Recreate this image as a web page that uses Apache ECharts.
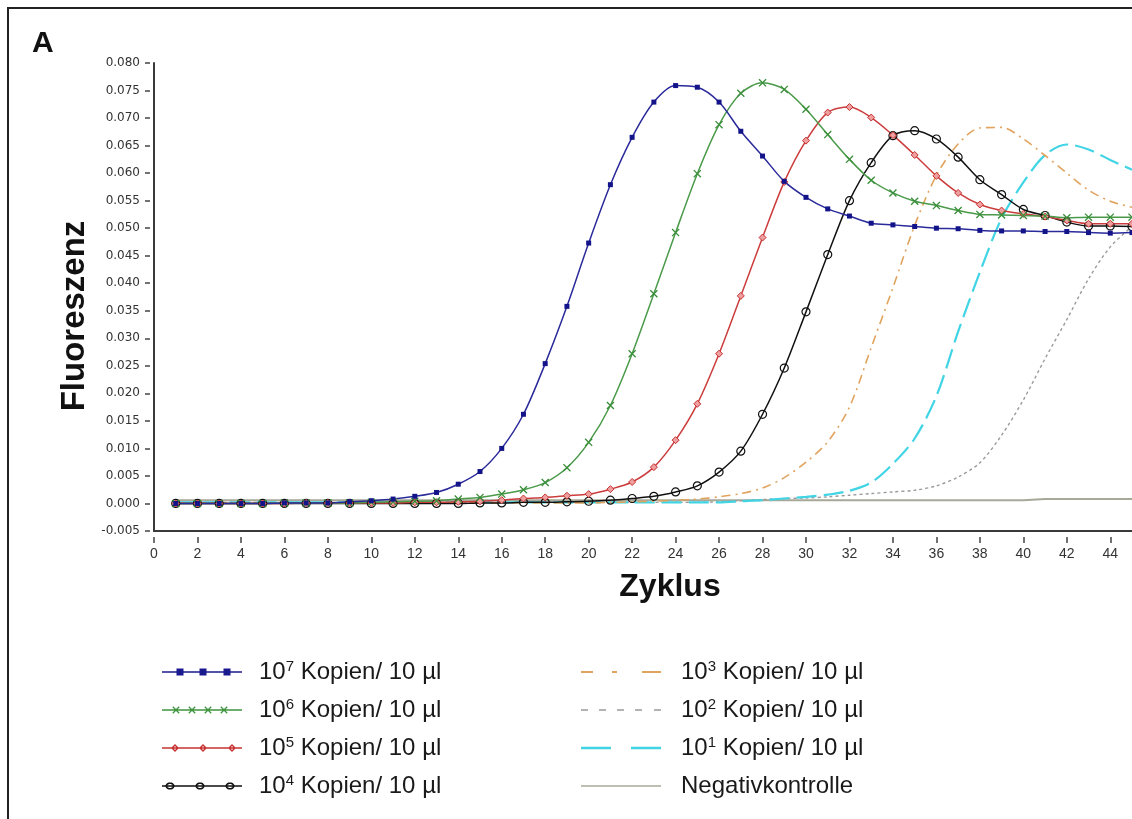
<!DOCTYPE html>
<html>
<head>
<meta charset="utf-8">
<title>Fluoreszenz / Zyklus</title>
<script src="https://cdn.jsdelivr.net/npm/echarts@6/dist/echarts.min.js"></script>
<style>
html, body { margin: 0; padding: 0; background: #fff; }
#chart { width: 1132px; height: 819px; }
</style>
</head>
<body>
<div id="chart"></div>
<script>
// Zyklen
var cycles = [1, 2, 3, 4, 5, 6, 7, 8, 9, 10, 11, 12, 13, 14, 15, 16, 17, 18, 19, 20,
  21, 22, 23, 24, 25, 26, 27, 28, 29, 30, 31, 32, 33, 34, 35, 36, 37, 38, 39, 40,
  41, 42, 43, 44, 45];
var xTicks = [0, 2, 4, 6, 8, 10, 12, 14, 16, 18, 20, 22, 24, 26, 28, 30, 32, 34, 36, 38, 40, 42, 44];

var names = ['10^7 Kopien/ 10 µl', '10^6 Kopien/ 10 µl', '10^5 Kopien/ 10 µl', '10^4 Kopien/ 10 µl',
  '10^3 Kopien/ 10 µl', '10^2 Kopien/ 10 µl', '10^1 Kopien/ 10 µl', 'Negativkontrolle'];

// Fluoreszenz je Zyklus
var kop7 = [0, 0, 0, 0, 0, 0.0001, 0.0001, 0.0001, 0.0003, 0.0005,
  0.0008, 0.0013, 0.0020, 0.0035, 0.0058, 0.0100, 0.0162, 0.0254, 0.0358, 0.0473,
  0.0579, 0.0665, 0.0729, 0.0759, 0.0756, 0.0729, 0.0676, 0.0631, 0.0585, 0.0556,
  0.0535, 0.0522, 0.0509, 0.0506, 0.0503, 0.0500, 0.0499, 0.0496, 0.0495, 0.0495,
  0.0494, 0.0494, 0.0492, 0.0491, 0.0492];
var kop6 = [0, 0, 0, 0, 0, 0.0001, 0.0001, 0.0001, 0.0001, 0.0002,
  0.0003, 0.0004, 0.0005, 0.0008, 0.0011, 0.0017, 0.0025, 0.0038, 0.0065, 0.0111,
  0.0178, 0.0272, 0.0381, 0.0492, 0.0599, 0.0688, 0.0745, 0.0764, 0.0752, 0.0716,
  0.0670, 0.0625, 0.0587, 0.0564, 0.0549, 0.0541, 0.0532, 0.0525, 0.0524, 0.0523,
  0.0522, 0.0519, 0.0520, 0.0520, 0.0520];
var kop5 = [0, 0, 0, 0, 0, 0, 0.0001, 0.0001, 0.0001, 0.0001,
  0.0001, 0.0002, 0.0002, 0.0003, 0.0004, 0.0006, 0.0009, 0.0011, 0.0014, 0.0017,
  0.0026, 0.0039, 0.0066, 0.0115, 0.0181, 0.0272, 0.0377, 0.0483, 0.0584, 0.0659,
  0.0710, 0.0720, 0.0701, 0.0669, 0.0633, 0.0595, 0.0564, 0.0543, 0.0532, 0.0526,
  0.0521, 0.0514, 0.0508, 0.0508, 0.0508];
var kop4 = [0, 0, 0, 0, 0, 0, 0, 0, 0, 0,
  0, 0, 0, 0, 0.0001, 0.0001, 0.0002, 0.0002, 0.0003, 0.0004,
  0.0006, 0.0009, 0.0013, 0.0021, 0.0032, 0.0057, 0.0095, 0.0162, 0.0246, 0.0348,
  0.0452, 0.0550, 0.0619, 0.0668, 0.0677, 0.0662, 0.0629, 0.0588, 0.0561, 0.0534,
  0.0523, 0.0511, 0.0504, 0.0504, 0.0503];
var kop3 = [0.0001, 0.0001, 0.0001, 0.0001, 0.0001, 0.0001, 0.0001, 0.0001, 0.0001, 0.0001,
  0.0001, 0.0001, 0.0001, 0.0001, 0.0001, 0.0001, 0.0001, 0.0001, 0.0001, 0.0001,
  0.0002, 0.0003, 0.0004, 0.0006, 0.0008, 0.0012, 0.0018, 0.0028, 0.0047, 0.0075,
  0.0112, 0.0175, 0.0283, 0.0392, 0.0505, 0.0596, 0.0653, 0.0682, 0.0683, 0.0662,
  0.0632, 0.0600, 0.0569, 0.0549, 0.0538];
var kop2 = [0.0002, 0.0002, 0.0002, 0.0002, 0.0002, 0.0002, 0.0002, 0.0002, 0.0002, 0.0002,
  0.0002, 0.0002, 0.0002, 0.0002, 0.0002, 0.0002, 0.0002, 0.0002, 0.0002, 0.0002,
  0.0002, 0.0002, 0.0002, 0.0002, 0.0002, 0.0003, 0.0005, 0.0007, 0.0009, 0.0010,
  0.0012, 0.0015, 0.0018, 0.0021, 0.0024, 0.0032, 0.0048, 0.0074, 0.0124, 0.0188,
  0.0263, 0.0334, 0.0408, 0.0466, 0.0503];
var kop1 = [0.0002, 0.0002, 0.0002, 0.0002, 0.0002, 0.0002, 0.0002, 0.0002, 0.0002, 0.0002,
  0.0002, 0.0002, 0.0002, 0.0002, 0.0002, 0.0002, 0.0002, 0.0002, 0.0002, 0.0002,
  0.0002, 0.0002, 0.0002, 0.0002, 0.0002, 0.0002, 0.0004, 0.0006, 0.0009, 0.0012,
  0.0016, 0.0023, 0.0038, 0.0072, 0.0118, 0.0195, 0.0312, 0.0420, 0.0518, 0.0583,
  0.0633, 0.0652, 0.0643, 0.0624, 0.0606];
var negativ = [0.0006, 0.0006, 0.0006, 0.0006, 0.0006, 0.0006, 0.0006, 0.0006, 0.0006, 0.0006,
  0.0006, 0.0006, 0.0006, 0.0006, 0.0006, 0.0006, 0.0006, 0.0006, 0.0006, 0.0006,
  0.0006, 0.0006, 0.0006, 0.0006, 0.0006, 0.0006, 0.0006, 0.0006, 0.0006, 0.0006,
  0.0006, 0.0006, 0.0006, 0.0006, 0.0006, 0.0006, 0.0006, 0.0006, 0.0006, 0.0006,
  0.0008, 0.0008, 0.0008, 0.0008, 0.0008];

var FONT = '"Liberation Sans", Arial, Helvetica, sans-serif';

function pts(vals) {
  return cycles.map(function (c, i) { return [c, vals[i]]; });
}

// kleine Pfad-Helfer fuer die Legendensymbole
function poly(p, hole) {
  var a = 0;
  for (var i = 0; i < p.length; i++) {
    var q = p[(i + 1) % p.length];
    a += p[i][0] * q[1] - q[0] * p[i][1];
  }
  if ((a < 0) !== !!hole) p = p.slice().reverse();
  return 'M' + p.map(function (v) { return v[0].toFixed(2) + ',' + v[1].toFixed(2); }).join('L') + 'Z';
}
function box(x0, y0, x1, y1) { return poly([[x0, y0], [x1, y0], [x1, y1], [x0, y1]]); }
function bar(x1, y1, x2, y2, w) {
  var dx = x2 - x1, dy = y2 - y1, l = Math.sqrt(dx * dx + dy * dy);
  var nx = -dy / l * w / 2, ny = dx / l * w / 2;
  return poly([[x1 + nx, y1 + ny], [x2 + nx, y2 + ny], [x2 - nx, y2 - ny], [x1 - nx, y1 - ny]]);
}
function cross(cx, cy, r, w) { return bar(cx - r, cy - r, cx + r, cy + r, w) + bar(cx - r, cy + r, cx + r, cy - r, w); }
function diamond(cx, cy, r, hole) { return poly([[cx, cy - r], [cx + r, cy], [cx, cy + r], [cx - r, cy]], hole); }
function ellipse(cx, cy, rx, ry, hole) {
  var p = [];
  for (var i = 0; i < 20; i++) {
    var t = i / 20 * 2 * Math.PI;
    p.push([cx + rx * Math.cos(t), cy + ry * Math.sin(t)]);
  }
  return poly(p, hole);
}

var line = box(0, 3.3, 80, 4.7);
var icons = [
  line + box(14.5, 0.5, 21.5, 7.5) + box(37.5, 0.5, 44.5, 7.5) + box(61.5, 0.5, 68.5, 7.5),
  line + cross(14, 4, 3.2, 1.3) + cross(30, 4, 3.2, 1.3) + cross(46, 4, 3.2, 1.3) + cross(62, 4, 3.2, 1.3),
  line + diamond(13, 4, 4) + diamond(13, 4, 2, true) + diamond(41, 4, 4) + diamond(41, 4, 2, true) + diamond(70, 4, 4) + diamond(70, 4, 2, true),
  line + ellipse(8, 4, 4.6, 3.6) + ellipse(8, 4, 2.9, 2, true) + ellipse(38, 4, 4.6, 3.6) + ellipse(38, 4, 2.9, 2, true) + ellipse(68, 4, 4.6, 3.6) + ellipse(68, 4, 2.9, 2, true),
  box(0, 0, 12, 2) + box(31, 0, 36, 2) + box(61, 0, 80, 2),
  box(0, 0, 7, 1.5) + box(18, 0, 25, 1.5) + box(36, 0, 43, 1.5) + box(54, 0, 61, 1.5) + box(73, 0, 80, 1.5),
  box(0, 0, 30, 2.4) + box(50, 0, 80, 2.4),
  box(0, 0, 80, 1.6)
];
var colors = ['#1a1a8e', '#3f953f', '#c83434', '#111111', '#e0a45e', '#9a9a9a', '#40d4e4', '#a8a898'];

var chart = echarts.init(document.getElementById('chart'));

function legendData(from, to) {
  var out = [];
  for (var i = from; i < to; i++) {
    out.push({ name: names[i], icon: 'path://' + icons[i], itemStyle: { color: colors[i], borderWidth: 0, opacity: 1 } });
  }
  return out;
}
function legendBox(left, pad, from, to) {
  return {
    orient: 'vertical', left: left, top: 659, padding: 0,
    itemWidth: 80, itemHeight: 10, itemGap: 12,
    selectedMode: false, symbolKeepAspect: true,
    data: legendData(from, to),
    formatter: function (n) { return '{pad|}' + n.replace(/\^(\d)/, '{sup|$1}'); },
    textStyle: {
      fontFamily: FONT, fontSize: 24, lineHeight: 26, color: '#1a1a1a',
      rich: {
        pad: { width: pad },
        sup: { fontFamily: FONT, fontSize: 15, lineHeight: 16, verticalAlign: 'top', color: '#1a1a1a' }
      }
    }
  };
}

var option = {
  animation: false,
  backgroundColor: '#ffffff',
  grid: { left: 154, right: 0, top: 63, bottom: 288, containLabel: false, outerBoundsMode: 'none' },
  legend: [legendBox(162, 12, 0, 4), legendBox(581, 15, 4, 8)],
  xAxis: [{
    type: 'value', min: 0, max: 45, position: 'bottom',
    axisLine: { show: true, onZero: false, lineStyle: { color: '#3a3a3a', width: 2 } },
    axisTick: { show: false }, axisLabel: { show: false }, splitLine: { show: false }
  }, {
    type: 'value', min: 0, max: 45, position: 'bottom', offset: 6,
    axisLine: { show: false, onZero: false },
    axisTick: { show: true, length: 6, customValues: xTicks, lineStyle: { color: '#444', width: 1.5 } },
    axisLabel: { customValues: xTicks, margin: 10, fontSize: 14, fontFamily: FONT, color: '#333' },
    splitLine: { show: false }
  }],
  yAxis: [{
    type: 'value', min: -0.005, max: 0.08, interval: 0.005, position: 'left',
    axisLine: { show: true, onZero: false, lineStyle: { color: '#3a3a3a', width: 2 } },
    axisTick: { show: false }, axisLabel: { show: false }, splitLine: { show: false }
  }, {
    type: 'value', min: -0.005, max: 0.08, interval: 0.005, position: 'left', offset: 4,
    axisLine: { show: false, onZero: false },
    axisTick: { show: true, length: 5, lineStyle: { color: '#444', width: 1.5 } },
    axisLabel: { margin: 10, fontSize: 12, fontFamily: '"DejaVu Sans", sans-serif', color: '#333',
      formatter: function (v) { return v.toFixed(3); } },
    splitLine: { show: false }
  }],
  graphic: [
    { type: 'polyline', silent: true, shape: { points: [[8, 819], [8, 8], [1132, 8]] },
      style: { stroke: '#222', lineWidth: 2, fill: null } },
    { type: 'text', x: 32, y: 44, silent: true,
      style: { text: 'A', fontSize: 30, fontWeight: 'bold', fontFamily: FONT, fill: '#111', verticalAlign: 'middle' } },
    { type: 'text', x: 75, y: 316, rotation: Math.PI / 2, silent: true,
      style: { text: 'Fluoreszenz', fontSize: 33, fontWeight: 'bold', fontFamily: FONT, fill: '#111', align: 'center', verticalAlign: 'middle' } },
    { type: 'text', x: 670, y: 587, silent: true,
      style: { text: 'Zyklus', fontSize: 32, fontWeight: 'bold', fontFamily: FONT, fill: '#111', align: 'center', verticalAlign: 'middle' } }
  ],
  series: [
    { name: names[7], type: 'line', data: pts(negativ), symbol: 'none', color: colors[7],
      lineStyle: { color: colors[7], width: 2 } },
    { name: names[5], type: 'line', data: pts(kop2), symbol: 'none', smooth: 0.3, color: colors[5],
      lineStyle: { color: colors[5], width: 1.4, type: [3, 3] } },
    { name: names[6], type: 'line', data: pts(kop1), symbol: 'none', smooth: 0.3, color: colors[6],
      lineStyle: { color: colors[6], width: 2.2, type: [20, 7] } },
    { name: names[4], type: 'line', data: pts(kop3), symbol: 'none', smooth: 0.3, color: colors[4],
      lineStyle: { color: colors[4], width: 1.6, type: [9, 5, 2, 5] } },
    { name: names[3], type: 'line', data: pts(kop4), smooth: 0.3, color: colors[3],
      symbol: 'circle', symbolSize: 8,
      itemStyle: { color: 'rgba(255,255,255,0)', borderColor: '#111', borderWidth: 1.2 },
      lineStyle: { color: '#111', width: 1.5 } },
    { name: names[2], type: 'line', data: pts(kop5), smooth: 0.3, color: colors[2],
      symbol: 'diamond', symbolSize: 7,
      itemStyle: { color: '#eea0a0', borderColor: '#c83030', borderWidth: 1 },
      lineStyle: { color: '#cc3c3c', width: 1.5 } },
    { name: names[1], type: 'line', data: pts(kop6), smooth: 0.3, color: colors[1],
      symbol: 'path://' + cross(5, 5, 4.3, 1.6), symbolSize: 8,
      itemStyle: { color: '#3a8f3a', borderWidth: 0 },
      lineStyle: { color: '#4a9a4a', width: 1.5 } },
    { name: names[0], type: 'line', data: pts(kop7), smooth: 0.3, color: colors[0],
      symbol: 'rect', symbolSize: 5,
      itemStyle: { color: '#14148a' },
      lineStyle: { color: '#2a2a9a', width: 1.5 } }
  ]
};
option.series.forEach(function (s) { s.silent = true; s.emphasis = { disabled: true }; });

chart.setOption(option);
</script>
</body>
</html>
